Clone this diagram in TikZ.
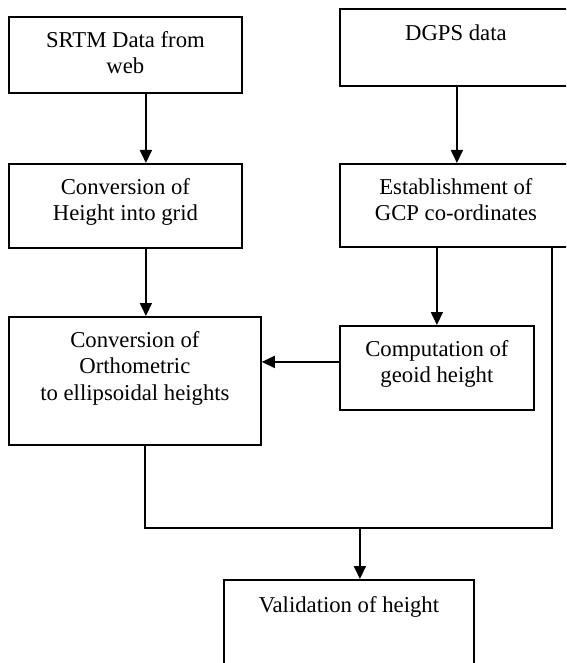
\documentclass[tikz,border=0pt]{standalone}
\usepackage{fontspec}
\setmainfont{Liberation Serif}
\usetikzlibrary{arrows.meta}
\begin{document}
\begin{tikzpicture}[x=1pt,y=1pt,
  box/.style={draw, line width=1.8pt, rectangle, anchor=north west, inner sep=0pt},
  txt/.style={anchor=north, inner sep=0pt, align=center, font=\fontsize{22.7}{26.5}\selectfont},
  conn/.style={line width=1.8pt},
  arr/.style={line width=1.8pt, -{Triangle[length=13pt,width=12pt]}}]
\useasboundingbox (0,0) rectangle (566,-663);
\clip (0,0) rectangle (566,-663);
% boxes
\node[box, minimum width=233pt, minimum height=76pt] (srtm) at (8,-16) {};
\node[box, minimum width=232pt, minimum height=77pt] (dgps) at (339,-8) {};
\node[box, minimum width=233pt, minimum height=84pt] (conv1) at (8,-163) {};
\node[box, minimum width=232pt, minimum height=83pt] (estab) at (339,-163) {};
\node[box, minimum width=252pt, minimum height=128pt] (conv2) at (8,-316) {};
\node[box, minimum width=194pt, minimum height=84pt] (comp) at (339,-325) {};
\node[box, minimum width=250pt, minimum height=100pt] (valid) at (223,-579) {};
% texts
\node[txt] (srtmT) at ([yshift=-15pt]srtm.north) {SRTM Data from\\web};
\node[txt] (dgpsT) at ([yshift=-17pt]dgps.north) {DGPS data};
\node[txt] (conv1T) at ([yshift=-15pt]conv1.north) {Conversion of\\Height into grid};
\node[txt] (estabT) at ([yshift=-15pt]estab.north) {Establishment of\\GCP co-ordinates};
\node[txt] (conv2T) at ([yshift=-15pt]conv2.north) {Conversion of\\Orthometric\\to ellipsoidal heights};
\node[txt] (compT) at ([yshift=-15pt]comp.north) {Computation of\\geoid height};
\node[txt] (validT) at ([yshift=-17pt]valid.north) {Validation of height};
% helper coordinates
\coordinate (bus) at (0,-528);
\coordinate (er) at ([xshift=96pt]estab.south);
% connectors
\draw[arr] ([xshift=20.5pt]srtm.south) -- ([xshift=20.5pt]conv1.north);
\draw[arr] ([xshift=1pt]dgps.south) -- ([xshift=1pt]estab.north);
\draw[arr] ([xshift=20.5pt]conv1.south) -- ([xshift=11pt]conv2.north);
\draw[arr] (comp.north |- estab.south) -- (comp.north);
\draw[arr] ([yshift=6pt]comp.west) -- ([yshift=6pt]comp.west -| conv2.east);
\draw[conn] ([xshift=10pt]conv2.south) |- (er |- bus) -- (er);
\draw[arr] ([xshift=11pt]valid.north |- bus) -- ([xshift=11pt]valid.north);
\end{tikzpicture}
\end{document}
